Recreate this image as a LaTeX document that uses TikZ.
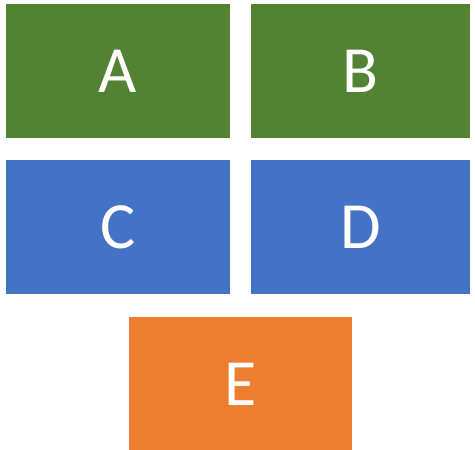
\documentclass[tikz,border=0pt]{standalone}
\usepackage{fontspec}
\setmainfont{Carlito}
\definecolor{boxgreen}{HTML}{548235}
\definecolor{boxblue}{HTML}{4472C4}
\definecolor{boxorange}{HTML}{ED7D31}
\tikzset{
	letterbox/.style={rectangle, inner sep=0pt, text=white, font=\fontsize{66}{66}\selectfont, minimum height=134pt}
}
\begin{document}
\begin{tikzpicture}[x=1pt, y=1pt]
		\useasboundingbox (0.00,0.00) rectangle (475.00,450.00);
		\node[letterbox, fill=boxgreen, minimum width=224pt] (a) at (118.00,379.00) {A};
		\node[letterbox, fill=boxgreen, minimum width=219pt] (b) at (360.50,379.00) {B};
		\node[letterbox, fill=boxblue, minimum width=224pt] (c) at (118.00,222.50) {C};
		\node[letterbox, fill=boxblue, minimum width=219pt] (d) at (360.50,222.50) {D};
		\node[letterbox, fill=boxorange, minimum width=223pt] (e) at (240.50,66.00) {E};
	\end{tikzpicture}
\end{document}
